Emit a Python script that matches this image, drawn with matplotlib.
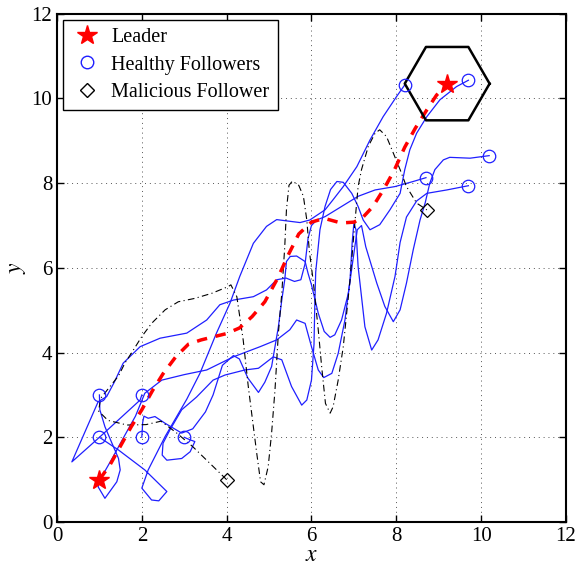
import matplotlib
matplotlib.use("Agg")
import matplotlib.pyplot as plt
from matplotlib.lines import Line2D
import numpy as np

# ---------------- data ----------------
leader_x = [1.0, 1.25, 1.5, 1.75, 2.0, 2.25, 2.5, 2.8, 3.1, 3.4, 4.0, 4.3, 4.6, 4.9, 5.2, 5.45, 5.7, 6.0, 6.3, 6.7, 7.0, 7.2, 7.45, 7.7, 7.95, 8.2, 8.45, 8.72, 8.95, 9.2]
leader_y = [1.0, 1.35, 1.8, 2.25, 2.65, 3.1, 3.5, 3.9, 4.2, 4.3, 4.45, 4.58, 4.85, 5.2, 5.75, 6.3, 6.8, 7.08, 7.17, 7.06, 7.08, 7.18, 7.45, 7.85, 8.3, 8.85, 9.3, 9.73, 10.08, 10.33]

mal_x = [4.0, 3.2, 2.8, 2.45, 2.1, 1.65, 1.2, 0.98, 1.03, 1.25, 1.45, 1.6, 1.8, 2.0, 2.23, 2.55, 2.86, 3.25, 3.65, 4.04, 4.1, 4.24, 4.39, 4.51, 4.63, 4.71, 4.8, 4.88, 4.98, 5.06, 5.14, 5.22, 5.3, 5.37, 5.41, 5.47, 5.55, 5.7, 5.81, 5.89, 5.95, 6.04, 6.16, 6.24, 6.33, 6.44, 6.51, 6.63, 6.75, 6.83, 6.91, 7.0, 7.1, 7.18, 7.34, 7.5, 7.61, 7.77, 7.93, 8.09, 8.24, 8.48, 8.72]
mal_y = [1.0, 1.78, 2.12, 2.38, 2.3, 2.29, 2.4, 2.62, 2.92, 3.2, 3.45, 3.75, 4.06, 4.38, 4.69, 5.01, 5.2, 5.28, 5.4, 5.56, 5.6, 5.32, 4.3, 3.2, 2.25, 1.62, 0.95, 0.88, 1.31, 2.1, 3.12, 4.46, 5.4, 6.5, 7.37, 7.95, 8.05, 7.95, 7.69, 7.13, 6.4, 5.7, 4.54, 3.67, 2.8, 2.57, 2.72, 3.35, 4.14, 4.93, 5.72, 6.8, 7.92, 8.32, 8.87, 9.18, 9.26, 9.1, 8.71, 8.32, 7.92, 7.53, 7.37]

# healthy follower starting at (1, 2), ends at (8.2, 10.3)
fc_x = [1.0, 1.45, 2.07, 2.59, 2.4, 2.23, 2.0, 2.15, 2.55, 3.06, 3.37, 3.76, 4.08, 4.31, 4.63, 4.94, 5.18, 5.49, 5.73, 5.96, 6.32, 6.51, 6.75, 7.07, 7.38, 7.69, 8.01, 8.2]
fc_y = [2.0, 1.7, 1.23, 0.72, 0.5, 0.52, 0.8, 1.23, 2.02, 2.9, 3.51, 4.46, 5.17, 5.8, 6.58, 6.98, 7.14, 7.1, 7.07, 7.13, 7.37, 7.61, 7.92, 8.39, 9.02, 9.57, 10.05, 10.32]

# healthy follower starting at (2, 3), ends at (8.7, 8.1)
fb_x = [2.0, 1.96, 1.0, 0.35, 0.97, 1.17, 1.35, 1.56, 1.96, 2.43, 3.06, 3.53, 3.84, 4.16, 4.63, 4.94, 5.18, 5.4, 5.6, 5.75, 5.85, 5.92, 6.0, 6.12, 6.32, 6.71, 7.1, 7.5, 7.97, 8.4, 8.7]
fb_y = [3.0, 2.88, 2.0, 1.42, 2.84, 2.96, 3.3, 3.75, 4.14, 4.34, 4.46, 4.77, 5.13, 5.24, 5.32, 5.48, 5.72, 5.76, 5.68, 5.72, 6.1, 6.7, 7.0, 7.13, 7.21, 7.45, 7.69, 7.84, 7.92, 8.04, 8.13]

# healthy follower starting at (1, 3), ends at (9.7, 7.9)
fa_x = [1.0, 1.01, 1.13, 1.33, 1.45, 1.49, 1.41, 1.13, 0.97, 1.01, 1.3, 1.6, 1.85, 2.07, 2.47, 3.0, 3.53, 4.16, 4.79, 5.18, 5.49, 5.65, 5.85, 6.0, 6.16, 6.29, 6.48, 6.63, 6.79, 6.91, 6.96, 7.0, 7.05, 7.1, 7.26, 7.42, 7.57, 7.77, 7.97, 8.09, 8.24, 8.48, 8.72, 9.19, 9.7]
fa_y = [3.0, 2.65, 2.25, 1.78, 1.5, 1.23, 0.95, 0.56, 0.83, 0.99, 1.5, 2.05, 2.5, 3.04, 3.35, 3.48, 3.59, 3.9, 4.14, 4.3, 4.54, 4.77, 4.69, 4.14, 3.59, 3.41, 3.51, 3.98, 4.77, 5.72, 6.6, 7.05, 6.9, 6.03, 4.61, 4.06, 4.3, 4.93, 5.8, 6.6, 7.2, 7.58, 7.76, 7.84, 7.94]

# healthy follower starting at (2, 2), ends at (10.2, 8.65)
fd_x = [2.0, 2.02, 2.05, 2.15, 2.31, 2.55, 2.94, 3.2, 3.5, 3.68, 3.9, 4.16, 4.3, 4.5, 4.75, 4.9, 5.06, 5.22, 5.3, 5.37, 5.41, 5.5, 5.65, 5.85, 5.92, 6.0, 6.16, 6.3, 6.44, 6.55, 6.71, 6.87, 6.98, 7.08, 7.18, 7.28, 7.54, 7.73, 7.93, 8.09, 8.24, 8.4, 8.56, 8.68, 8.79, 8.91, 9.11, 9.26, 9.74, 10.19]
fd_y = [2.0, 2.35, 2.5, 2.45, 2.49, 2.33, 2.1, 2.2, 2.6, 3.0, 3.7, 3.93, 3.85, 3.4, 3.06, 3.3, 3.67, 4.61, 5.24, 5.72, 6.15, 6.27, 6.28, 6.15, 5.87, 5.6, 4.93, 4.5, 4.36, 4.42, 4.77, 5.4, 6.2, 6.9, 7.0, 6.5, 5.64, 5.09, 4.73, 5.01, 5.64, 6.43, 7.13, 7.53, 8.0, 8.32, 8.55, 8.61, 8.59, 8.65]

# healthy follower starting at (3, 2), ends at (9.7, 10.4)
fe_x = [3.0, 3.14, 3.25, 3.14, 2.94, 2.59, 2.48, 2.5, 2.66, 2.94, 3.29, 3.68, 3.96, 4.43, 4.75, 5.1, 5.3, 5.53, 5.77, 5.89, 6.0, 6.06, 6.08, 6.1, 6.2, 6.32, 6.45, 6.6, 6.75, 6.95, 7.1, 7.22, 7.38, 7.61, 7.85, 8.09, 8.2, 8.32, 8.48, 8.72, 9.03, 9.42, 9.7]
fe_y = [2.0, 1.94, 1.9, 1.66, 1.5, 1.46, 1.58, 1.86, 2.17, 2.65, 2.95, 3.35, 3.47, 3.59, 3.63, 3.9, 3.83, 3.2, 2.76, 2.88, 3.35, 4.2, 5.2, 5.9, 6.9, 7.45, 7.85, 8.04, 8.02, 7.76, 7.45, 7.13, 6.9, 7.02, 7.37, 7.76, 8.32, 8.79, 9.18, 9.57, 9.97, 10.28, 10.43]

followers_x = [fc_x, fb_x, fa_x, fd_x, fe_x]
followers_y = [fc_y, fb_y, fa_y, fd_y, fe_y]

hex_center = (9.2, 10.35)
hex_radius = 1.0

x_ticks = [0, 2, 4, 6, 8, 10, 12]
y_ticks = [0, 2, 4, 6, 8, 10, 12]
legend_labels = ['Leader', 'Healthy Followers', 'Malicious Follower']

# ---------------- plotting ----------------
plt.rcParams['font.family'] = ['Liberation Serif', 'DejaVu Serif']
plt.rcParams['mathtext.fontset'] = 'stix'

BLUE = '#1f1fff'
fig = plt.figure(figsize=(5.77, 5.66), dpi=100)
ax = fig.add_axes([0.0988, 0.0777, 0.882, 0.898])

for fx, fy in zip(followers_x, followers_y):
    ax.plot(fx, fy, color=BLUE, lw=0.9, zorder=3)
    ax.plot(fx[0], fy[0], 'o', mfc='none', mec=BLUE, ms=9, mew=0.9, zorder=5)
    ax.plot(fx[-1], fy[-1], 'o', mfc='none', mec=BLUE, ms=9, mew=0.9, zorder=5)

ax.plot(mal_x, mal_y, color='black', lw=0.8, ls=(0, (6, 3, 1, 3)), zorder=3)
ax.plot(mal_x[0], mal_y[0], 'D', mfc='none', mec='black', ms=7, mew=0.9, zorder=5)
ax.plot(mal_x[-1], mal_y[-1], 'D', mfc='none', mec='black', ms=7, mew=0.9, zorder=5)

ax.plot(leader_x, leader_y, color='red', lw=2.5, ls=(0, (3, 2.5)), zorder=4)
ax.plot(leader_x[0], leader_y[0], '*', color='red', ms=15, zorder=6)
ax.plot(leader_x[-1], leader_y[-1], '*', color='red', ms=15, zorder=6)

ang = np.deg2rad(np.arange(0, 361, 60))
ax.plot(hex_center[0] + hex_radius * np.cos(ang), hex_center[1] + hex_radius * np.sin(ang),
        color='black', lw=1.8, zorder=4)

ax.set_xlim(0, 12)
ax.set_ylim(0, 12)
ax.set_xticks(x_ticks)
ax.set_yticks(y_ticks)
ax.tick_params(direction='in', top=True, right=True, labelsize=15, length=5, width=1, pad=3.5)
for s in ax.spines.values():
    s.set_linewidth(1.5)
ax.grid(True, ls=(0, (1, 4)), color='#555555', lw=0.7)

ax.set_xlabel('$x$', fontsize=17)
ax.xaxis.label.set_va('center')
ax.xaxis.set_label_coords(0.5, -0.066)
ax.set_ylabel('$y$', fontsize=17, rotation=90)
ax.yaxis.label.set_va('center')
ax.yaxis.set_label_coords(-0.078, 0.5)

handles = [Line2D([], [], ls='none', marker='*', color='red', ms=15),
           Line2D([], [], ls='none', marker='o', mfc='none', mec=BLUE, ms=9),
           Line2D([], [], ls='none', marker='D', mfc='none', mec='black', ms=7)]
leg = ax.legend(handles, legend_labels,
                loc='upper left', fontsize=14.5, fancybox=False, edgecolor='black',
                framealpha=1, borderpad=0.4, labelspacing=0.42, handlelength=1.6,
                handletextpad=0.4, borderaxespad=0.3)
leg.get_frame().set_linewidth(1.0)

fig.savefig('out.png', dpi=100)
